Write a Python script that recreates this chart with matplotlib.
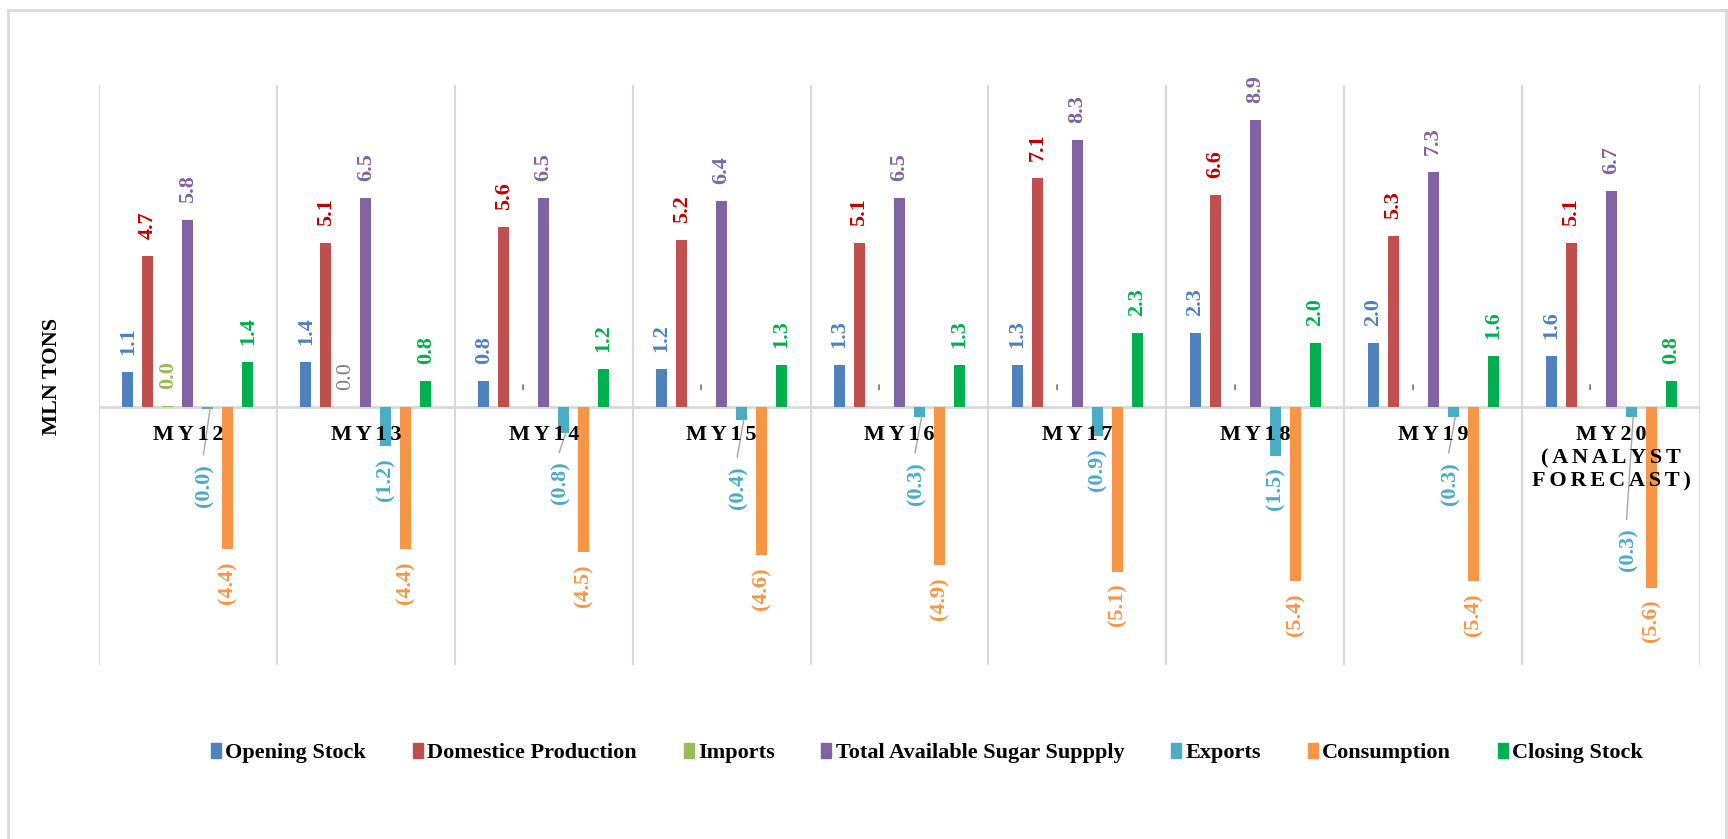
import matplotlib.pyplot as plt
import numpy as np
from matplotlib.lines import Line2D

plt.rcParams['font.family'] = ['Liberation Serif', 'DejaVu Serif']

# ---- data (million tons) ----
years = ['MY12', 'MY13', 'MY14', 'MY15', 'MY16', 'MY17', 'MY18', 'MY19',
         'MY20\n(ANALYST\nFORECAST)']
series_names = ['Opening Stock', 'Domestice Production', 'Imports',
                'Total Available Sugar Suppply', 'Exports', 'Consumption',
                'Closing Stock']
opening_stock = [1.1, 1.4, 0.8, 1.2, 1.3, 1.3, 2.3, 2.0, 1.6]
domestic_production = [4.7, 5.1, 5.6, 5.2, 5.1, 7.1, 6.6, 5.3, 5.1]
imports = [0.03, 0.02, 0, 0, 0, 0, 0, 0, 0]
total_supply = [5.8, 6.5, 6.5, 6.4, 6.5, 8.3, 8.9, 7.3, 6.7]
exports = [-0.04, -1.2, -0.8, -0.4, -0.3, -0.9, -1.5, -0.3, -0.3]
consumption = [-4.4, -4.4, -4.5, -4.6, -4.9, -5.1, -5.4, -5.4, -5.6]
closing_stock = [1.4, 0.8, 1.2, 1.3, 1.3, 2.3, 2.0, 1.6, 0.8]

series = [opening_stock, domestic_production, imports, total_supply,
          exports, consumption, closing_stock]
bar_colors = ['#4F81BD', '#C0504D', '#9BBB59', '#8064A2', '#4BACC6',
              '#F79646', '#00B050']
label_colors = ['#4F81BD', '#C00000', '#9BBB59', '#8064A2', '#4BACC6',
                '#F79646', '#00B050']

# where the export labels were moved to (value units), None = default spot
export_label_y = [-2.42, None, -2.35, -2.5, -2.37, None, None, -2.37, -4.43]

W, H = 1728, 839
fig = plt.figure(figsize=(W / 100, H / 100), dpi=100)
ax = fig.add_axes([99 / W, (H - 665) / H, (1700 - 99) / W, (665 - 85) / H])

x = np.arange(len(years))
step = 0.1124
width = 0.0618
label_fs = 16


def fmt(v):
    if v == 0:
        return '-'
    if v < 0:
        return '({:.1f})'.format(abs(v))
    return '{:.1f}'.format(v)


for s, vals in enumerate(series):
    xs = x + (s - 3) * step
    ax.bar(xs, vals, width=width, color=bar_colors[s], zorder=3)
    for i, v in enumerate(vals):
        color = label_colors[s]
        weight = 'bold'
        if s == 2 and i > 0:
            color = '#7F7F7F'
            weight = 'normal'
        if s == 4 and export_label_y[i] is not None:
            ly = export_label_y[i]
            lx = xs[i] - 0.017
            ax.text(lx, ly, fmt(v), rotation=90, ha='center', va='center',
                    fontsize=label_fs, fontweight=weight, color=color, zorder=5)
            ax.plot([lx - 0.008, xs[i] + 0.012], [ly + 0.95, v], color='#A6A6A6',
                    lw=1, zorder=4)
            continue
        if v >= 0:
            ax.annotate(fmt(v), (xs[i], v), xytext=(0, 17),
                        textcoords='offset pixels', rotation=90, ha='center',
                        va='bottom', fontsize=label_fs, fontweight=weight,
                        color=color, zorder=5)
        else:
            ax.annotate(fmt(v), (xs[i], v), xytext=(0, -12),
                        textcoords='offset pixels', rotation=90, ha='center',
                        va='top', fontsize=label_fs, fontweight=weight,
                        color=color, zorder=5)

# category names just under the zero line, letter spaced
for i, name in enumerate(years):
    txt = '\n'.join('\u2006'.join(line) for line in name.split('\n'))
    ax.annotate(txt, (x[i], 0), xytext=(0, -18), textcoords='offset pixels',
                ha='center', va='top', fontsize=16, fontweight='bold',
                color='black', linespacing=1.2, zorder=6)

for k in range(len(years) + 1):
    ax.axvline(k - 0.5, color='#D9D9D9', lw=1.5, zorder=1)
ax.axhline(0, color='#D9D9D9', lw=2, zorder=2)

ax.set_xlim(-0.5, len(years) - 0.5)
ax.set_ylim(-8, 10)
ax.set_xticks([])
ax.set_yticks([])
for sp in ax.spines.values():
    sp.set_visible(False)

fig.text(52 / W, 1 - 376 / H, 'MLN TONS', rotation=90, ha='center',
         va='center', fontsize=16, fontweight='bold')

handles = [plt.Rectangle((0, 0), 1, 1, color=c) for c in bar_colors]
fig.legend(handles, series_names, loc='center', ncol=7,
           bbox_to_anchor=(927 / W, 1 - 753 / H), frameon=False,
           prop={'size': 16, 'weight': 'bold'}, handlelength=0.45,
           handleheight=0.7, handletextpad=0.2, columnspacing=2.1)

# light frame around the chart
frame = dict(color='#D9D9D9', lw=2, transform=fig.transFigure)
fig.add_artist(Line2D([8 / W, 8 / W], [0, 1 - 10 / H], **frame))
fig.add_artist(Line2D([8 / W, 1], [1 - 10 / H, 1 - 10 / H], **frame))
fig.add_artist(Line2D([1726 / W, 1726 / W], [0, 1 - 10 / H], **frame))

fig.savefig('out.png', dpi=100)
